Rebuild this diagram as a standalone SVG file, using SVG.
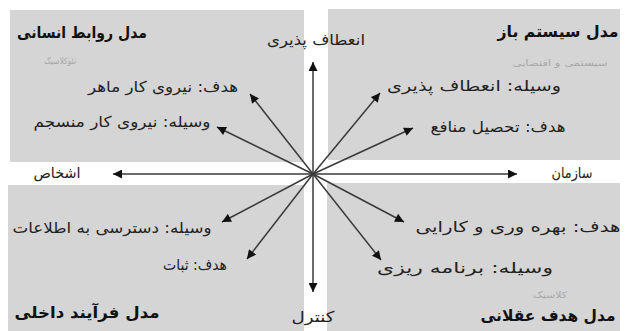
<svg xmlns="http://www.w3.org/2000/svg" width="626" height="331" viewBox="0 0 626 331">
<style>
text{font-family:"DejaVu Sans","Noto Sans",sans-serif;fill:#222;text-anchor:middle;direction:rtl}
.t{font-size:16px;font-weight:bold;fill:#111}
.b{font-size:15px}
.f{font-size:9px;fill:#a8a8a8}
.q{fill:#d5d5d5}
.c line{stroke:#3a3a3a;stroke-width:1.5;marker-end:url(#ah)}
</style>
<defs>
<marker id="ah" viewBox="0 0 10 10" refX="10" refY="5" markerWidth="6.5" markerHeight="6" markerUnits="strokeWidth" orient="auto">
<path d="M0,0 L10,5 L0,10 z" fill="#111"/>
</marker>
</defs>
<rect width="626" height="331" fill="#fff"/>
<g id="q-tl"><rect class="q" x="10" y="10" width="294" height="152"/>
<text class="t" x="82" y="38" textLength="130" lengthAdjust="spacingAndGlyphs">مدل روابط انسانی</text>
<text class="f" x="60" y="64" textLength="32" lengthAdjust="spacingAndGlyphs">نئوکلاسیک</text>
<text class="b" x="163" y="92" textLength="150" lengthAdjust="spacingAndGlyphs">هدف: نیروی کار ماهر</text>
<text class="b" x="122" y="127" textLength="177" lengthAdjust="spacingAndGlyphs">وسیله: نیروی کار منسجم</text>
</g>
<g id="q-tr"><rect class="q" x="328" y="9" width="292" height="151"/>
<text class="t" x="558" y="37" textLength="121" lengthAdjust="spacingAndGlyphs">مدل سیستم باز</text>
<text class="f" x="560" y="66" textLength="95" lengthAdjust="spacingAndGlyphs">سیستمی و اقتضایی</text>
<text class="b" x="474" y="91" textLength="174" lengthAdjust="spacingAndGlyphs">وسیله: انعطاف پذیری</text>
<text class="b" x="498" y="132" textLength="135" lengthAdjust="spacingAndGlyphs">هدف: تحصیل منافع</text>
</g>
<g id="q-bl"><rect class="q" x="8" y="185" width="296" height="146"/>
<text class="b" x="112" y="233" textLength="199" lengthAdjust="spacingAndGlyphs">وسیله: دسترسی به اطلاعات</text>
<text class="b" x="195" y="270" textLength="64" lengthAdjust="spacingAndGlyphs">هدف: ثبات</text>
<text class="t" x="87" y="318" textLength="145" lengthAdjust="spacingAndGlyphs">مدل فرآیند داخلی</text>
</g>
<g id="q-br"><rect class="q" x="327" y="183" width="293" height="148"/>
<text class="b" x="518" y="232" textLength="205" lengthAdjust="spacingAndGlyphs">هدف: بهره وری و کارایی</text>
<text class="b" x="465" y="273" textLength="176" lengthAdjust="spacingAndGlyphs">وسیله: برنامه ریزی</text>
<text class="f" x="550" y="298" textLength="34" lengthAdjust="spacingAndGlyphs">کلاسیک</text>
<text class="t" x="548" y="321" textLength="135" lengthAdjust="spacingAndGlyphs">مدل هدف عقلانی</text>
</g>
<g id="axis-labels">
<text class="b" x="316" y="45" textLength="98" lengthAdjust="spacingAndGlyphs">انعطاف پذیری</text>
<text class="b" x="313" y="322" textLength="43" lengthAdjust="spacingAndGlyphs">کنترل</text>
<text class="b" x="572" y="178" textLength="41" lengthAdjust="spacingAndGlyphs">سازمان</text>
<text class="b" x="57" y="178" textLength="47" lengthAdjust="spacingAndGlyphs">اشخاص</text>
</g>
<g id="connectors" class="c">
<line x1="313" y1="174" x2="313" y2="62"/>
<line x1="313" y1="174" x2="313" y2="292"/>
<line x1="313" y1="174" x2="113" y2="174"/>
<line x1="313" y1="174" x2="517" y2="174"/>
<line x1="313" y1="174" x2="250" y2="94"/>
<line x1="313" y1="174" x2="217" y2="127"/>
<line x1="313" y1="174" x2="380" y2="93"/>
<line x1="313" y1="174" x2="413" y2="128"/>
<line x1="313" y1="174" x2="222" y2="222"/>
<line x1="313" y1="174" x2="247" y2="259"/>
<line x1="313" y1="174" x2="381" y2="260"/>
<line x1="313" y1="174" x2="404" y2="222"/>
</g>
</svg>
